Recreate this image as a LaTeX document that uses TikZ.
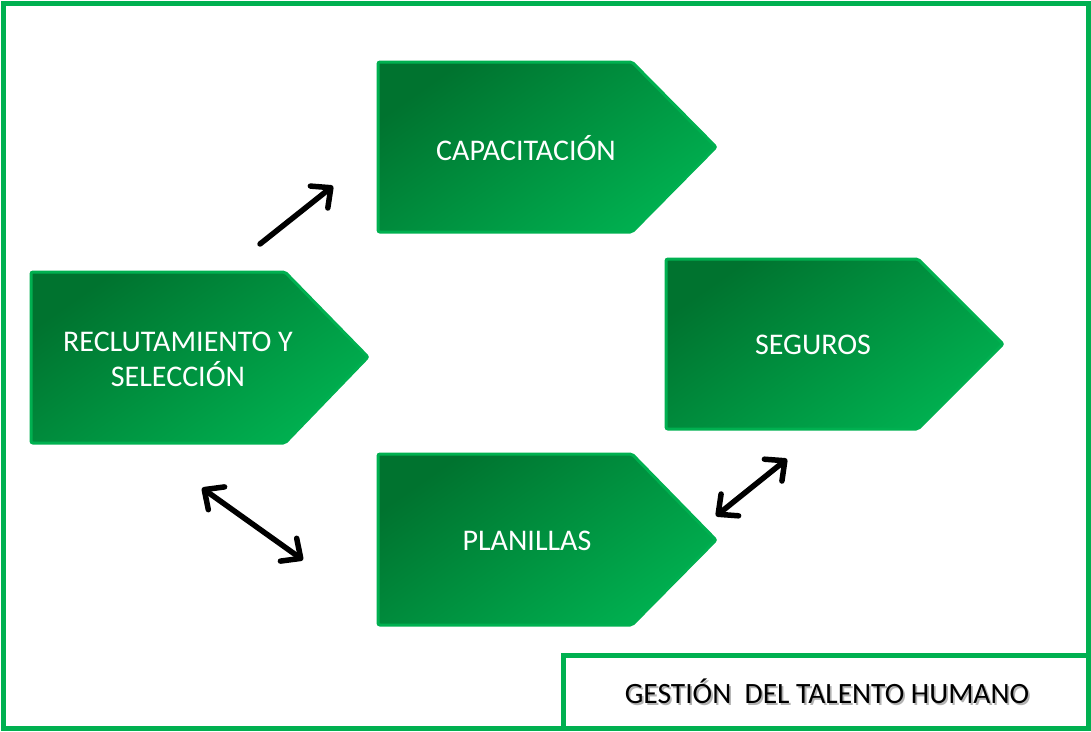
\documentclass[tikz,border=0pt]{standalone}
\usepackage{fontspec}
\setmainfont{Carlito}
\usetikzlibrary{arrows.meta}
\definecolor{verde}{HTML}{00B050}
\definecolor{verdeosc}{HTML}{00732F}
\tikzset{
  bloque/.style={draw=verde, line width=3pt, rounded corners=2pt,
    top color=verdeosc, bottom color=verde, shading angle=35},
  rotulo/.style={text=white, font=\fontsize{30}{35}\selectfont, align=center},
  flecha/.style={line width=5.5pt, line cap=round, -{Straight Barb[length=15pt, width=28pt, round]}},
  dobleflecha/.style={line width=5.5pt, line cap=round, {Straight Barb[length=15pt, width=28pt, round]}-{Straight Barb[length=15pt, width=28pt, round]}}
}
\begin{document}
\begin{tikzpicture}[x=1pt, y=-1pt]
    \useasboundingbox (0,0) rectangle (1091,731);

    % Marco exterior
    \draw[verde, line width=5pt] (3,3) rectangle (1088,728);

    % Bloques
    \path[bloque] (378,62) -- (632,62) -- (716,147) -- (632,232) -- (378,232) -- cycle;
    \path[bloque] (31,272) -- (285,272) -- (368,357) -- (285,443) -- (31,443) -- cycle;
    \path[bloque] (666,259) -- (918,259) -- (1003,344) -- (918,429) -- (666,429) -- cycle;
    \path[bloque] (378,454) -- (632,454) -- (716,540) -- (632,625) -- (378,625) -- cycle;

    % Textos
    \node[rotulo] (capac) at (526,148) {CAPACITACIÓN};
    \node[rotulo] (reclut) at (178,359) {RECLUTAMIENTO Y\\SELECCIÓN};
    \node[rotulo] (seguros) at (813,345) {SEGUROS};
    \node[rotulo] (planillas) at (527,541) {PLANILLAS};

    % Titulo
    \draw[verde, line width=5pt] (563,728) -- (563,655) -- (1088,655);
    \node[font=\fontsize{29.5}{34}\selectfont] (titulo) at (827,692)
        {\rlap{\hspace{1.8pt}\raisebox{-1.8pt}{\textcolor{black!30}{GESTIÓN\ \ DEL TALENTO HUMANO}}}GESTIÓN\ \ DEL TALENTO HUMANO};

    % Flechas
    \coordinate (a1) at (260,244);
    \coordinate (a2) at (333,186);
    \coordinate (b1) at (202,488);
    \coordinate (b2) at (303,560);
    \coordinate (c1) at (716,516);
    \coordinate (c2) at (787,459);
    \draw[flecha] (a1) -- (a2);
    \draw[dobleflecha] (b1) -- (b2);
    \draw[dobleflecha] (c1) -- (c2);

\end{tikzpicture}
\end{document}
